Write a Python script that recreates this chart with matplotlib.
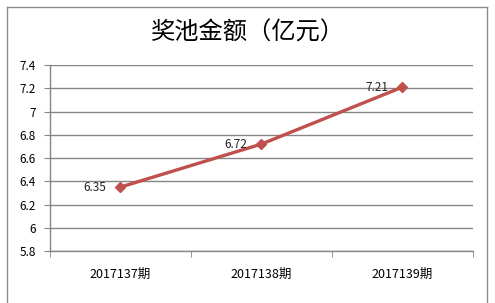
import matplotlib
matplotlib.use("Agg")
import matplotlib.pyplot as plt
from matplotlib.lines import Line2D

plt.rcParams['font.family'] = ['Noto Sans CJK SC', 'DejaVu Sans']

# 数据
periods = ['2017137期', '2017138期', '2017139期']
amounts = [6.35, 6.72, 7.21]
y_ticks = [5.8, 6, 6.2, 6.4, 6.6, 6.8, 7, 7.2, 7.4]
y_labels = ['5.8', '6', '6.2', '6.4', '6.6', '6.8', '7', '7.2', '7.4']
title = '奖池金额（亿元）'

W, H = 495, 303
fig = plt.figure(figsize=(W / 100, H / 100), dpi=100)
ax = fig.add_axes([50 / W, 1 - 251 / H, 423 / W, 186 / H])

line_color = '#C0504D'
grid_color = '#868686'

x = list(range(len(periods)))
ax.plot(x, amounts, color=line_color, lw=2.4, marker='D', ms=5.5,
        markeredgecolor=line_color, markerfacecolor=line_color, zorder=3)
for xi, v in zip(x, amounts):
    ax.annotate(f'{v:.2f}', (xi, v), xytext=(-10, 0), textcoords='offset points',
                ha='right', va='center', fontsize=8.5, color='#222222')

ax.set_xlim(-0.5, len(periods) - 0.5)
ax.set_ylim(5.8, 7.4)
ax.set_yticks(y_ticks)
ax.set_yticklabels(y_labels)
ax.set_xticks(x)
ax.set_xticklabels(periods)
ax.set_xticks([i - 0.5 for i in range(len(periods) + 1)], minor=True)

ax.grid(axis='y', color=grid_color, lw=1)
ax.set_axisbelow(True)
for s in ['top', 'right']:
    ax.spines[s].set_visible(False)
for s in ['left', 'bottom']:
    ax.spines[s].set_color(grid_color)
    ax.spines[s].set_linewidth(1)

ax.tick_params(axis='y', length=4, color=grid_color, labelsize=8.5, pad=6)
ax.tick_params(axis='x', which='major', length=0, labelsize=9, pad=12)
ax.tick_params(axis='x', which='minor', length=4, color=grid_color)

fig.text(248 / W, 1 - 33 / H, title, ha='center', va='center', fontsize=17.5,
         fontweight='medium', color='black')

# 外框
bx0, bx1, by0 = 7 / W, 487 / W, 1 - 7 / H
for xs, ys in [([bx0, bx0], [0, by0]), ([bx1, bx1], [0, by0]), ([bx0, bx1], [by0, by0])]:
    fig.add_artist(Line2D(xs, ys, color='#8C8C8C', lw=1, transform=fig.transFigure))

fig.savefig('out.png', dpi=100)
